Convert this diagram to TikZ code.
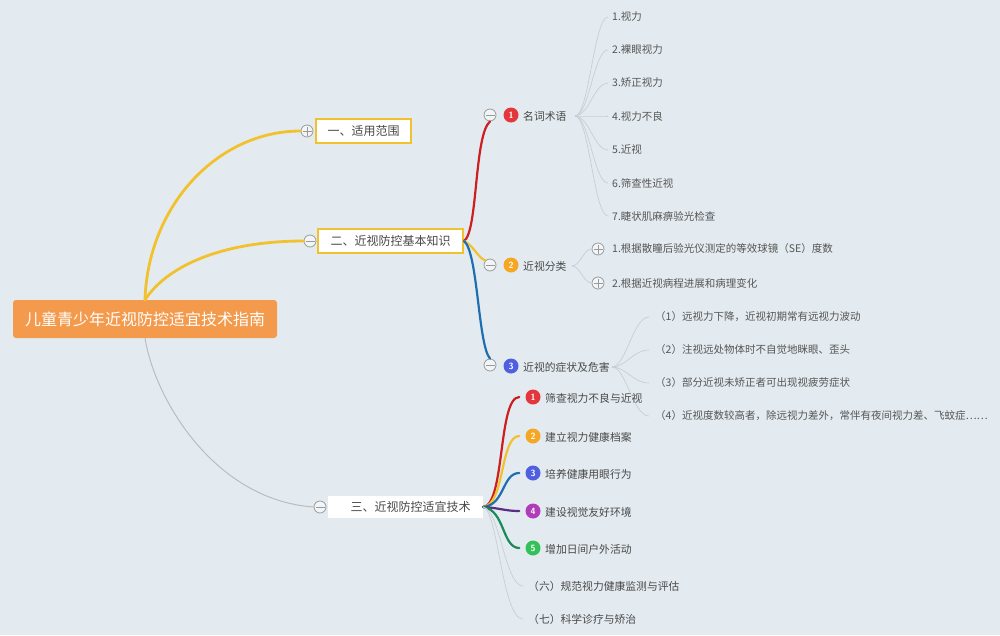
\documentclass[tikz,border=0pt]{standalone}
\usepackage{fontspec}
\newfontfamily\cjk{Noto Sans CJK SC}
\definecolor{bg}{HTML}{E4EBF0}
\definecolor{rootc}{HTML}{F39A4C}
\definecolor{ylw}{HTML}{F2C12E}
\definecolor{txt}{HTML}{484848}
\definecolor{leafc}{HTML}{555555}
\definecolor{tgc}{HTML}{9A9A9A}
\definecolor{fanc}{HTML}{C9CED2}
\definecolor{grayline}{HTML}{B8BDC0}
\definecolor{redl}{HTML}{CC1F1F}
\definecolor{bluel}{HTML}{1F6FB0}
\definecolor{purl}{HTML}{5A2D82}
\definecolor{grnl}{HTML}{1A8A5B}
\definecolor{bred}{HTML}{E2383D}
\definecolor{bora}{HTML}{F5A623}
\definecolor{bblu}{HTML}{4F5FE0}
\definecolor{bpur}{HTML}{B03CB8}
\definecolor{bgrn}{HTML}{33C25A}
\tikzset{
  rootbox/.style={rectangle, rounded corners=3pt, fill=rootc, text=white, minimum width=264pt, minimum height=38pt, inner sep=0pt, font=\cjk\fontsize{16}{18}\selectfont},
  lvlbox/.style={rectangle, fill=white, draw=ylw, line width=2pt, minimum height=24pt, inner sep=0pt, text=txt, font=\cjk\fontsize{12}{14}\selectfont},
  plainbox/.style={rectangle, fill=white, minimum height=22pt, inner sep=0pt, text=txt, font=\cjk\fontsize{12}{14}\selectfont},
  tog/.style={circle, draw=tgc, fill=white!50!bg, minimum size=12pt, inner sep=0pt, line width=0.8pt},
  minusc/.style={tog, path picture={\draw[tgc, line width=0.8pt] ([xshift=-4.5pt]path picture bounding box.center) -- ([xshift=4.5pt]path picture bounding box.center);}},
  plusc/.style={tog, path picture={\draw[tgc, line width=0.8pt] ([xshift=-4.5pt]path picture bounding box.center) -- ([xshift=4.5pt]path picture bounding box.center) ([yshift=-4.5pt]path picture bounding box.center) -- ([yshift=4.5pt]path picture bounding box.center);}},
  badge/.style={circle, fill=#1, text=white, minimum size=15pt, inner sep=0pt, font=\sffamily\bfseries\fontsize{9}{9}\selectfont},
  subt/.style={anchor=west, inner sep=0pt, text=txt, font=\cjk\fontsize{10.8}{12}\selectfont},
  leaf/.style={anchor=west, inner sep=0pt, text=leafc, font=\cjk\fontsize{10.5}{12}\selectfont},
  fan/.style={draw=fanc, line width=0.7pt},
  thick1/.style={line width=2.8pt, line cap=round},
  thick2/.style={line width=2.2pt, line cap=round},
}
\begin{document}
\begin{tikzpicture}[x=1pt,y=-1pt]
\fill[bg] (0,0) rectangle (1000,635);
\useasboundingbox (0,0) rectangle (1000,635);

% root and level 1
\node[rootbox] (root) at (145,319) {儿童青少年近视防控适宜技术指南};
\node[lvlbox, minimum width=95pt] (b1) at (363.5,131) {一、适用范围};
\node[lvlbox, minimum width=145pt] (b2) at (390.5,241) {二、近视防控基本知识};
\node[plainbox, minimum width=155pt, text width=130pt, align=right] (b3) at (405.5,507) {三、近视防控适宜技术};
\node[plusc] (c1) at (307,131) {};
\node[minusc] (c2) at (310,241) {};
\node[minusc] (c3) at (320,507) {};

\draw[ylw, thick1] (root.north) .. controls (148,205) and (218,131) .. (c1.west);
\draw[ylw, thick1] (root.north) .. controls (170,262) and (230,241) .. (c2.west);
\draw[grayline, line width=1pt] (root.south) .. controls (155,400) and (215,500) .. (c3.west);

% level 2 under b2
\node[minusc] (c21) at (490,115) {};
\node[minusc] (c22) at (490,265) {};
\node[minusc] (c23) at (490,365) {};
\node[badge=bred] (k1) at (511,115) {1};
\node[badge=bora] (k2) at (511,265) {2};
\node[badge=bblu] (k3) at (511,366) {3};
\node[subt] (s1) at (523,116) {名词术语};
\node[subt] (s2) at (523,266) {近视分类};
\node[subt] (s3) at (523,367) {近视的症状及危害};

\draw[redl, thick2] (b2.east) .. controls (478,232) and (474,135) .. (c21.south);
\draw[ylw, thick2] (b2.east) .. controls (474,246) and (478,258) .. (c22.north west);
\draw[bluel, thick2] (b2.east) .. controls (478,252) and (478,345) .. (c23.north);

% leaves of s1
\coordinate (f1) at (575,116);
\node[leaf] (l11) at (612,17) {1.视力};
\node[leaf] (l12) at (612,50) {2.裸眼视力};
\node[leaf] (l13) at (612,83) {3.矫正视力};
\node[leaf] (l14) at (612,116) {4.视力不良};
\node[leaf] (l15) at (612,150) {5.近视};
\node[leaf] (l16) at (612,183) {6.筛查性近视};
\node[leaf] (l17) at (612,216) {7.睫状肌麻痹验光检查};
\foreach \n in {l11,l12,l13,l14,l15,l16,l17}{
  \draw[fan] (f1) .. controls +(14,0) and +(-14,0) .. ([xshift=-4pt]\n.west);
}

% leaves of s2
\coordinate (f2) at (572,266);
\node[plusc] (p1) at (598,249) {};
\node[plusc] (p2) at (598,283) {};
\node[leaf] (l21) at (612,249) {1.根据散瞳后验光仪测定的等效球镜（SE）度数};
\node[leaf] (l22) at (612,283) {2.根据近视病程进展和病理变化};
\draw[fan] (f2) .. controls +(8,0) and +(-8,0) .. (p1.west);
\draw[fan] (f2) .. controls +(8,0) and +(-8,0) .. (p2.west);

% leaves of s3
\coordinate (f3) at (612,367);
\node[leaf] (l31) at (655,317) {（1）远视力下降，近视初期常有远视力波动};
\node[leaf] (l32) at (655,350) {（2）注视远处物体时不自觉地眯眼、歪头};
\node[leaf] (l33) at (655,383) {（3）部分近视未矫正者可出现视疲劳症状};
\node[leaf] (l34) at (655,416) {（4）近视度数较高者，除远视力差外，常伴有夜间视力差、飞蚊症\ldots\ldots};
\foreach \n in {l31,l32,l33,l34}{
  \draw[fan] (f3) .. controls +(14,0) and +(-16,0) .. ([xshift=-6pt]\n.west);
}

% level 2 under b3
\node[badge=bred] (m1) at (533,397) {1};
\node[badge=bora] (m2) at (533,436) {2};
\node[badge=bblu] (m3) at (533,473) {3};
\node[badge=bpur] (m4) at (533,511) {4};
\node[badge=bgrn] (m5) at (533,548) {5};
\node[subt] (u1) at (545,398) {筛查视力不良与近视};
\node[subt] (u2) at (545,437) {建立视力健康档案};
\node[subt] (u3) at (545,474) {培养健康用眼行为};
\node[subt] (u4) at (545,512) {建设视觉友好环境};
\node[subt] (u5) at (545,549) {增加日间户外活动};
\node[subt] (u6) at (528,586) {（六）规范视力健康监测与评估};
\node[subt] (u7) at (528,619) {（七）科学诊疗与矫治};

\draw[redl, thick2] (b3.east) .. controls (505,505) and (498,397) .. ([xshift=-6pt]m1.west);
\draw[ylw, thick2] (b3.east) .. controls (505,505) and (500,436) .. ([xshift=-6pt]m2.west);
\draw[bluel, thick2] (b3.east) .. controls (505,505) and (502,473) .. ([xshift=-6pt]m3.west);
\draw[purl, thick2] (b3.east) .. controls (500,508) and (505,511) .. ([xshift=-6pt]m4.west);
\draw[grnl, thick2] (b3.east) .. controls (505,510) and (502,548) .. ([xshift=-6pt]m5.west);
\draw[fan] (b3.east) .. controls (500,510) and (505,586) .. ([xshift=-5pt]u6.west);
\draw[fan] (b3.east) .. controls (498,510) and (502,619) .. ([xshift=-5pt]u7.west);
\end{tikzpicture}
\end{document}
